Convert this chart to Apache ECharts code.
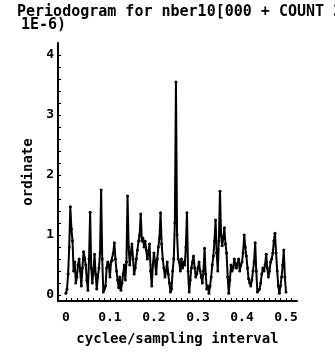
<!DOCTYPE html>
<html>
<head>
<meta charset="utf-8">
<script src="https://cdn.jsdelivr.net/npm/echarts@6/dist/echarts.min.js"></script>
<style>
html,body{margin:0;padding:0;background:#fff;}
#c{width:335px;height:352px;}
</style>
</head>
<body>
<div id="c"></div>
<script>
const titleLine1 = 'Periodogram for nber10[000 + COUNT 3';
const titleLine2 = '1E-6)';
const xName = 'cyclee/sampling interval';
const yName = 'ordinate';

const freqs = [
0.0000,0.0025,0.0050,0.0075,0.0100,0.0125,0.0150,0.0175,0.0200,0.0225,
0.0250,0.0275,0.0300,0.0325,0.0350,0.0375,0.0400,0.0425,0.0450,0.0475,
0.0500,0.0525,0.0550,0.0575,0.0600,0.0625,0.0650,0.0675,0.0700,0.0725,
0.0750,0.0775,0.0800,0.0825,0.0850,0.0875,0.0900,0.0925,0.0950,0.0975,
0.1000,0.1025,0.1050,0.1075,0.1100,0.1125,0.1150,0.1175,0.1200,0.1225,
0.1250,0.1275,0.1300,0.1325,0.1350,0.1375,0.1400,0.1425,0.1450,0.1475,
0.1500,0.1525,0.1550,0.1575,0.1600,0.1625,0.1650,0.1675,0.1700,0.1725,
0.1750,0.1775,0.1800,0.1825,0.1850,0.1875,0.1900,0.1925,0.1950,0.1975,
0.2000,0.2025,0.2050,0.2075,0.2100,0.2125,0.2150,0.2175,0.2200,0.2225,
0.2250,0.2275,0.2300,0.2325,0.2350,0.2375,0.2400,0.2425,0.2450,0.2475,
0.2500,0.2525,0.2550,0.2575,0.2600,0.2625,0.2650,0.2675,0.2700,0.2725,
0.2750,0.2775,0.2800,0.2825,0.2850,0.2875,0.2900,0.2925,0.2950,0.2975,
0.3000,0.3025,0.3050,0.3075,0.3100,0.3125,0.3150,0.3175,0.3200,0.3225,
0.3250,0.3275,0.3300,0.3325,0.3350,0.3375,0.3400,0.3425,0.3450,0.3475,
0.3500,0.3525,0.3550,0.3575,0.3600,0.3625,0.3650,0.3675,0.3700,0.3725,
0.3750,0.3775,0.3800,0.3825,0.3850,0.3875,0.3900,0.3925,0.3950,0.3975,
0.4000,0.4025,0.4050,0.4075,0.4100,0.4125,0.4150,0.4175,0.4200,0.4225,
0.4250,0.4275,0.4300,0.4325,0.4350,0.4375,0.4400,0.4425,0.4450,0.4475,
0.4500,0.4525,0.4550,0.4575,0.4600,0.4625,0.4650,0.4675,0.4700,0.4725,
0.4750,0.4775,0.4800,0.4825,0.4850,0.4875,0.4900,0.4925,0.4950,0.4975,
0.5000];

const ordinate = [
0.03,0.10,0.35,0.80,1.47,1.10,0.90,0.40,0.55,0.20,
0.30,0.50,0.60,0.40,0.15,0.45,0.72,0.62,0.50,0.25,
0.08,0.60,1.38,0.45,0.20,0.40,0.68,0.35,0.10,0.30,
0.45,0.70,1.75,0.60,0.05,0.10,0.15,0.45,0.55,0.50,
0.30,0.55,0.58,0.70,0.87,0.60,0.40,0.25,0.12,0.30,
0.08,0.20,0.35,0.50,0.25,0.55,1.65,0.80,0.50,0.70,
0.85,0.60,0.35,0.45,0.60,0.75,0.90,1.00,1.35,0.90,
0.95,0.80,0.90,0.75,0.60,0.70,0.85,0.40,0.15,0.50,
0.70,0.55,0.35,0.60,0.80,0.95,1.37,0.85,0.60,0.45,
0.30,0.40,0.55,0.35,0.20,0.05,0.10,0.40,0.60,1.20,
3.55,1.00,0.60,0.55,0.40,0.60,0.45,0.55,0.50,0.80,
1.37,0.40,0.05,0.25,0.45,0.55,0.65,0.45,0.30,0.35,
0.45,0.55,0.40,0.30,0.20,0.40,0.78,0.35,0.10,0.15,
0.03,0.15,0.30,0.50,0.65,0.90,1.25,0.70,0.40,0.90,
1.73,1.00,0.82,0.95,1.12,0.85,0.70,0.30,0.03,0.25,
0.50,0.40,0.45,0.60,0.50,0.45,0.53,0.60,0.40,0.50,
0.55,0.70,1.00,0.80,0.65,0.45,0.27,0.20,0.15,0.25,
0.40,0.55,0.87,0.40,0.05,0.08,0.10,0.20,0.35,0.45,
0.40,0.50,0.68,0.45,0.30,0.40,0.55,0.60,0.70,0.90,
1.03,0.70,0.40,0.15,0.03,0.15,0.30,0.50,0.75,0.30,
0.05];

const xLabelValues = [0, 0.1, 0.2, 0.3, 0.4, 0.5];
const xTickValues = [0,0.0125,0.025,0.0375,0.05,0.0625,0.075,0.0875,0.1,0.1125,0.125,0.1375,0.15,0.1625,0.175,0.1875,0.2,0.2125,0.225,0.2375,0.25,0.2625,0.275,0.2875,0.3,0.3125,0.325,0.3375,0.35,0.3625,0.375,0.3875,0.4,0.4125,0.425,0.4375,0.45,0.4625,0.475,0.4875,0.5,0.5125];
const yLabelValues = [0, 1, 2, 3, 4];
const yTickValues = [0,0.2,0.4,0.6,0.8,1,1.2,1.4,1.6,1.8,2,2.2,2.4,2.6,2.8,3,3.2,3.4,3.6,3.8,4];

const FONT = '"DejaVu Sans Mono", monospace';
const chart = echarts.init(document.getElementById('c'), null, {renderer: 'canvas'});
chart.setOption({
  animation: false,
  backgroundColor: '#fff',
  title: [
    {text: titleLine1, left: 12, top: 0, textStyle: {fontFamily: FONT, fontSize: 15, fontWeight: 'bold', color: '#000'}},
    {text: titleLine2, left: 16, top: 13, textStyle: {fontFamily: FONT, fontSize: 15, fontWeight: 'bold', color: '#000'}}
  ],
  grid: {left: 58, right: 38, top: 43, bottom: 51, containLabel: false},
  xAxis: {
    type: 'value', min: -0.018, max: 0.525,
    name: xName, nameLocation: 'middle', nameGap: 31,
    nameTextStyle: {fontFamily: FONT, fontSize: 14, fontWeight: 'bold', color: '#000'},
    axisLine: {show: true, onZero: false, lineStyle: {color: '#000', width: 2}},
    axisTick: {show: true, inside: true, length: 3, customValues: xTickValues, lineStyle: {color: '#000', width: 1}},
    axisLabel: {customValues: xLabelValues, margin: 10, fontFamily: FONT, fontSize: 13, fontWeight: 'bold', color: '#000',
      formatter: v => String(v)},
    splitLine: {show: false}
  },
  yAxis: {
    type: 'value', min: -0.1, max: 4.2,
    name: yName, nameLocation: 'middle', nameGap: 14, nameRotate: 90,
    nameTextStyle: {fontFamily: FONT, fontSize: 14, fontWeight: 'bold', color: '#000'},
    axisLine: {show: true, onZero: false, lineStyle: {color: '#000', width: 2}},
    axisTick: {show: true, inside: true, length: 3, customValues: yTickValues, lineStyle: {color: '#000', width: 1}},
    axisLabel: {customValues: yLabelValues, margin: 4, fontFamily: FONT, fontSize: 13, fontWeight: 'bold', color: '#000'},
    splitLine: {show: false}
  },
  series: [{
    type: 'line',
    data: freqs.map((f, i) => [f, ordinate[i]]),
    symbol: 'circle', symbolSize: 3, showSymbol: true,
    itemStyle: {color: '#000'},
    lineStyle: {color: '#000', width: 2}
  }]
});
</script>
</body>
</html>
